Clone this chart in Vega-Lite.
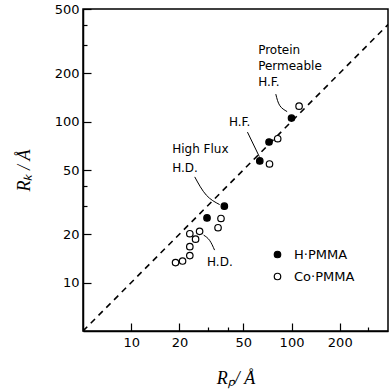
{
  "$schema": "https://vega.github.io/schema/vega-lite/v6.json",
  "width": 305,
  "height": 322,
  "autosize": {"type": "none"},
  "padding": {"left": 83, "top": 9, "right": 2, "bottom": 58},
  "background": "white",
  "config": {
    "view": {"stroke": "black", "strokeWidth": 1.5},
    "font": "DejaVu Sans"
  },
  "datasets": {
    "points": [
      {"Rp": 100, "Rk": 105, "series": "H·PMMA"},
      {"Rp": 72.4, "Rk": 74.6, "series": "H·PMMA"},
      {"Rp": 63.4, "Rk": 56.9, "series": "H·PMMA"},
      {"Rp": 38.1, "Rk": 29.8, "series": "H·PMMA"},
      {"Rp": 29.7, "Rk": 25.2, "series": "H·PMMA"},
      {"Rp": 111.5, "Rk": 124.5, "series": "Co·PMMA"},
      {"Rp": 82, "Rk": 78.2, "series": "Co·PMMA"},
      {"Rp": 72.9, "Rk": 54.5, "series": "Co·PMMA"},
      {"Rp": 36.3, "Rk": 25.0, "series": "Co·PMMA"},
      {"Rp": 34.8, "Rk": 21.9, "series": "Co·PMMA"},
      {"Rp": 26.7, "Rk": 20.8, "series": "Co·PMMA"},
      {"Rp": 23.2, "Rk": 20.1, "series": "Co·PMMA"},
      {"Rp": 25.2, "Rk": 18.6, "series": "Co·PMMA"},
      {"Rp": 23.2, "Rk": 16.7, "series": "Co·PMMA"},
      {"Rp": 23.2, "Rk": 14.7, "series": "Co·PMMA"},
      {"Rp": 20.9, "Rk": 13.6, "series": "Co·PMMA"},
      {"Rp": 18.9, "Rk": 13.3, "series": "Co·PMMA"}
    ],
    "diag": [
      {"Rp": 5, "Rk": 5},
      {"Rp": 400, "Rk": 400}
    ],
    "leaders": [
      {"g": "a", "o": 1, "Rp": 79.8, "Rk": 148},
      {"g": "a", "o": 2, "Rp": 84.5, "Rk": 125.6},
      {"g": "a", "o": 3, "Rp": 93.9, "Rk": 115.3},
      {"g": "b", "o": 1, "Rp": 53.1, "Rk": 86},
      {"g": "b", "o": 2, "Rp": 63.0, "Rk": 60.5},
      {"g": "c", "o": 1, "Rp": 24.9, "Rk": 45.3},
      {"g": "c", "o": 2, "Rp": 29.4, "Rk": 34.9},
      {"g": "c", "o": 3, "Rp": 35.6, "Rk": 30.5},
      {"g": "d", "o": 1, "Rp": 28.3, "Rk": 19.7},
      {"g": "d", "o": 2, "Rp": 30.8, "Rk": 18.3},
      {"g": "d", "o": 3, "Rp": 33.1, "Rk": 15.9}
    ],
    "labels": [
      {"text": "Protein", "Rp": 61.9, "Rk": 279},
      {"text": "Permeable", "Rp": 61.9, "Rk": 222},
      {"text": "H.F.", "Rp": 61.9, "Rk": 175},
      {"text": "H.F.", "Rp": 40.7, "Rk": 100},
      {"text": "High  Flux", "Rp": 18.0, "Rk": 67.7},
      {"text": "H.D.", "Rp": 18.0, "Rk": 51.5},
      {"text": "H.D.", "Rp": 29.7, "Rk": 13.5}
    ]
  },
  "layer": [
    {
      "data": {"name": "diag"},
      "mark": {"type": "line", "color": "black", "strokeWidth": 1.6, "strokeDash": [6, 5], "clip": true},
      "encoding": {
        "x": {
          "field": "Rp", "type": "quantitative",
          "scale": {"type": "log", "domain": [5, 400], "nice": false},
          "axis": {
            "title": "Rₚ/ Å",
            "titleFont": "Liberation Serif",
            "titleFontStyle": "italic",
            "titleFontWeight": "normal",
            "titleFontSize": 18,
            "titleColor": "black",
            "titlePadding": 20,
            "values": [10, 20, 30, 40, 50, 100, 200, 300],
            "labelExpr": "indexof([10,20,50,100,200], datum.value) >= 0 ? datum.label : ''",
            "labelFontSize": 13,
            "labelColor": "black",
            "labelPadding": 13,
            "grid": false,
            "domainColor": "black",
            "domainWidth": 1.5,
            "tickColor": "black",
            "tickWidth": 1.2,
            "tickSize": {"condition": {"test": "indexof([10,20,50,100,200], datum.value) >= 0", "value": -8}, "value": -4}
          }
        },
        "y": {
          "field": "Rk", "type": "quantitative",
          "scale": {"type": "log", "domain": [5, 500], "nice": false},
          "axis": {
            "title": "Rₖ / Å",
            "titleFont": "Liberation Serif",
            "titleFontStyle": "italic",
            "titleFontWeight": "normal",
            "titleFontSize": 18,
            "titleColor": "black",
            "titlePadding": 21,
            "values": [10, 20, 30, 40, 50, 100, 200, 300, 400, 500],
            "labelExpr": "indexof([10,20,50,100,200,500], datum.value) >= 0 ? datum.label : ''",
            "labelFontSize": 13,
            "labelColor": "black",
            "labelPadding": 12,
            "grid": false,
            "domainColor": "black",
            "domainWidth": 1.5,
            "tickColor": "black",
            "tickWidth": 1.2,
            "tickSize": {"condition": {"test": "indexof([10,20,50,100,200,500], datum.value) >= 0", "value": -8}, "value": -4}
          }
        }
      }
    },
    {
      "data": {"name": "leaders"},
      "mark": {"type": "line", "color": "black", "strokeWidth": 1, "interpolate": "natural"},
      "encoding": {
        "x": {"field": "Rp", "type": "quantitative"},
        "y": {"field": "Rk", "type": "quantitative"},
        "detail": {"field": "g"},
        "order": {"field": "o"}
      }
    },
    {
      "data": {"name": "points"},
      "mark": {"type": "point", "shape": "circle", "size": 42, "stroke": "black", "strokeWidth": 1.2, "opacity": 1, "filled": false},
      "encoding": {
        "x": {"field": "Rp", "type": "quantitative"},
        "y": {"field": "Rk", "type": "quantitative"},
        "fill": {
          "field": "series", "type": "nominal",
          "scale": {"domain": ["H·PMMA", "Co·PMMA"], "range": ["black", "white"]},
          "legend": {
            "title": null,
            "orient": "none",
            "legendX": 188,
            "legendY": 239,
            "padding": 0,
            "symbolType": "circle",
            "symbolSize": 42,
            "symbolStrokeColor": "black",
            "symbolStrokeWidth": 1.2,
            "labelFontSize": 13,
            "labelColor": "black",
            "labelOffset": 10,
            "rowPadding": 8
          }
        }
      }
    },
    {
      "data": {"name": "labels"},
      "mark": {"type": "text", "align": "left", "baseline": "middle", "fontSize": 12, "color": "black"},
      "encoding": {
        "x": {"field": "Rp", "type": "quantitative"},
        "y": {"field": "Rk", "type": "quantitative"},
        "text": {"field": "text"}
      }
    }
  ]
}
